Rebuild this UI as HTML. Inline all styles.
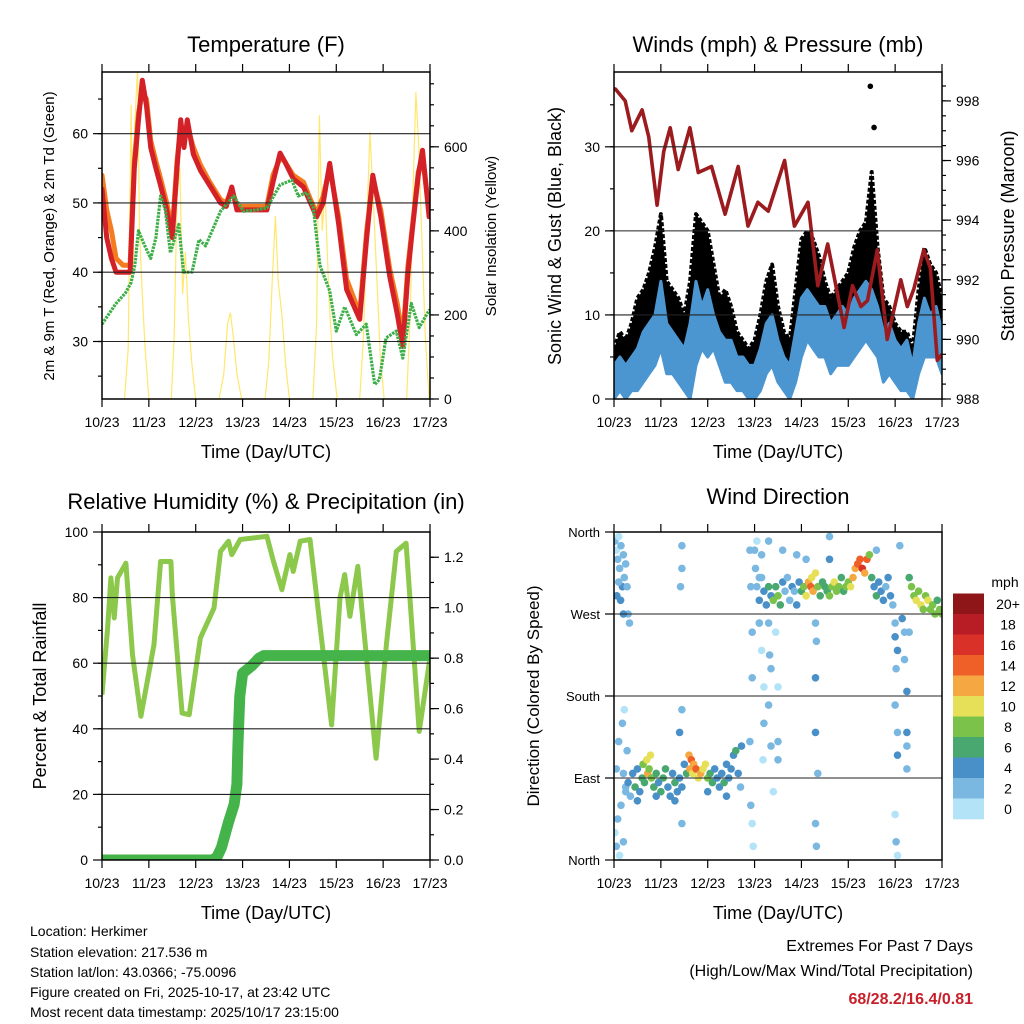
<!DOCTYPE html>
<html><head><meta charset="utf-8"><title>Station Meteogram</title>
<style>
html,body{margin:0;padding:0;background:#fff;}
svg{display:block;font-family:"Liberation Sans",Arial,sans-serif;}
</style></head>
<body>
<svg id="chart" xmlns="http://www.w3.org/2000/svg" width="1024" height="1024" viewBox="0 0 1024 1024">
<rect x="0" y="0" width="1024" height="1024" fill="#fff"/>
<defs>
<clipPath id="c1"><rect x="102" y="72" width="328" height="327"/></clipPath>
<clipPath id="c2"><rect x="614" y="72" width="328" height="327"/></clipPath>
<clipPath id="c3"><rect x="102" y="532" width="328" height="328"/></clipPath>
<clipPath id="c4"><rect x="614" y="532" width="328" height="328"/></clipPath>
</defs>
<text x="266" y="52" font-size="22" text-anchor="middle">Temperature (F)</text>
<text x="778" y="52" font-size="22" text-anchor="middle">Winds (mph) &amp; Pressure (mb)</text>
<text x="266" y="509" font-size="22" text-anchor="middle">Relative Humidity (%) &amp; Precipitation (in)</text>
<text x="778" y="504" font-size="22" text-anchor="middle">Wind Direction</text>
<text x="266" y="458" font-size="18" text-anchor="middle">Time (Day/UTC)</text>
<text x="778" y="458" font-size="18" text-anchor="middle">Time (Day/UTC)</text>
<text x="266" y="919" font-size="18" text-anchor="middle">Time (Day/UTC)</text>
<text x="778" y="919" font-size="18" text-anchor="middle">Time (Day/UTC)</text>
<text transform="translate(54,236) rotate(-90)" font-size="15" text-anchor="middle">2m &amp; 9m T (Red, Orange) &amp; 2m Td (Green)</text>
<text transform="translate(496,236) rotate(-90)" font-size="15" text-anchor="middle">Solar Insolation (Yellow)</text>
<text transform="translate(561,236) rotate(-90)" font-size="18" text-anchor="middle">Sonic Wind &amp; Gust (Blue, Black)</text>
<text transform="translate(1014,236) rotate(-90)" font-size="18" text-anchor="middle">Station Pressure (Maroon)</text>
<text transform="translate(46,696) rotate(-90)" font-size="18" text-anchor="middle">Percent &amp; Total Rainfall</text>
<text transform="translate(539,696) rotate(-90)" font-size="17" text-anchor="middle">Direction (Colored By Speed)</text>
<g font-size="14">
<text x="30" y="936">Location: Herkimer</text>
<text x="30" y="957">Station elevation: 217.536 m</text>
<text x="30" y="977">Station lat/lon: 43.0366; -75.0096</text>
<text x="30" y="997">Figure created on Fri, 2025-10-17, at 23:42 UTC</text>
<text x="30" y="1017">Most recent data timestamp: 2025/10/17 23:15:00</text>
</g>
<text x="973" y="951" font-size="16" text-anchor="end">Extremes For Past 7 Days</text>
<text x="973" y="976" font-size="16" text-anchor="end">(High/Low/Max Wind/Total Precipitation)</text>
<text x="973" y="1004" font-size="16" font-weight="bold" fill="#c8202a" text-anchor="end">68/28.2/16.4/0.81</text>
</svg>
<script>
// ---------- data ----------
const dayLabels=['10/23','11/23','12/23','13/23','14/23','15/23','16/23','17/23'];
const tRed=[0,0.1,0.2,0.3,0.45,0.6,0.69,0.78,0.86,0.95,1.04,1.15,1.25,1.38,1.5,1.6,1.68,1.75,1.82,1.95,2.1,2.3,2.53,2.65,2.77,2.88,3.2,3.52,3.65,3.8,3.9,4.08,4.3,4.45,4.58,4.72,4.86,5.05,5.22,5.5,5.65,5.78,5.95,6.14,6.3,6.42,6.53,6.63,6.75,6.84,6.98,7.0];
const tempRed=[52,45,42,40,40,40,55,62,67.7,64,58,55,52.5,49,45,55,62,58,62,57,54.7,52.5,50,49.5,52.3,49,49,49,53,57.2,56,53.5,52.3,50,48,50,55.7,47,37.5,33.2,45,54,48,39.4,34,29.3,40,46.6,54,57.6,48,48];
const tempOrange=[54,49,46,42,41,41,56,63,66,65,59,56,53.5,50,46,56,61,59,61,58,55.5,53,50.5,50,52,49.5,49.5,49.5,54,56.5,56,54,53,50.5,48.5,51,55,48,39,34,46,53.5,49,40.5,35.5,30.5,41,47,54.5,56.5,49,49];
const tDew=[0,0.15,0.3,0.5,0.62,0.7,0.78,0.9,1.04,1.15,1.25,1.35,1.46,1.64,1.74,1.92,2.07,2.21,2.39,2.53,2.81,3.02,3.3,3.52,3.8,4.05,4.19,4.37,4.51,4.65,4.86,5.0,5.18,5.43,5.64,5.82,5.92,6.06,6.28,6.42,6.6,6.77,6.98,7.0];
const dewGreen=[32.5,34,35.5,37,38.5,41,46,44,42,45,51,49,42.8,46.9,40,40,44.7,43.8,46.6,48.8,51,48.8,49,49.3,52.6,53.3,51,51.5,49.3,41,37.3,31.5,35,31,32.5,23.8,24.5,30.5,31.5,27.6,35.5,32,34.5,34.5];
const tSolar=[0.48,0.56,0.62,0.66,0.7,0.76,0.8,0.86,0.92,1.0,1.48,1.54,1.6,1.66,1.72,1.78,1.84,1.92,2.0,2.5,2.6,2.68,2.74,2.8,2.88,2.98,3.48,3.56,3.64,3.7,3.76,3.84,3.92,4.0,4.5,4.58,4.64,4.7,4.76,4.84,4.92,5.02,5.5,5.58,5.66,5.72,5.78,5.86,5.94,6.02,6.5,6.58,6.64,6.7,6.76,6.82,6.9,6.98];
const solar=[0,120,700,300,650,790,400,250,120,0,0,150,480,550,250,350,200,80,0,0,60,180,205,150,60,0,0,90,300,435,280,200,80,0,0,180,675,400,500,250,100,0,0,150,450,635,500,300,100,0,0,200,500,730,600,400,150,0];
const tWind=[0,0.125,0.25,0.375,0.5,0.625,0.75,0.875,1,1.125,1.25,1.375,1.5,1.625,1.75,1.875,2,2.125,2.25,2.375,2.5,2.625,2.75,2.875,3,3.125,3.25,3.375,3.5,3.625,3.75,3.875,4,4.125,4.25,4.375,4.5,4.625,4.75,4.875,5,5.125,5.25,5.375,5.5,5.625,5.75,5.875,6,6.125,6.25,6.375,6.5,6.625,6.75,6.875,7];
const windHigh=[4,5,4,5,6,8,9,10,14,9,8,7,6,9,14,11,13,10,8,7,7,5,5,4,4,6,9,10,7,5,4,8,12,13,12,11,11,9,10,11,10,12,13,14,13,11,8,9,7,6,7,4,9,12,10,11,8];
const windLow=[0,1,0,1,1,2,3,4,6,3,3,2,1,0,4,6,5,6,4,2,2,1,1,0,0,1,3,4,2,1,0,2,5,7,6,5,5,3,4,4,4,5,6,7,6,5,2,3,2,1,1,0,3,5,5,5,3];
const gust=[6,8,7,9,12,13,15,18,22,14,13,12,10,14,22,21,20,16,12,13,11,8,7,6,7,10,14,16,11,8,7,13,19,20,19,17,14,12,13,14,15,18,20,21,27,18,12,11,9,8,8,6,13,18,16,15,12];
const tGustOut=[5.47,5.55];
const gustOut=[37.2,32.3];
const tPres=[0,0.03,0.24,0.38,0.6,0.74,0.92,1.06,1.2,1.37,1.62,1.8,2.08,2.37,2.65,2.86,3.07,3.29,3.64,3.85,4.14,4.35,4.56,4.91,5.09,5.27,5.41,5.62,5.83,6.12,6.26,6.4,6.61,6.75,6.9,7.0];
const pressure=[998.4,998.4,998,997,997.7,996.8,994.5,996.3,997.1,995.7,997.1,995.6,995.8,994.2,995.8,993.8,994.6,994.3,996,993.8,994.6,991.8,993.2,990.4,991.8,991.1,991.3,993,990,992,991.1,991.7,993,992.4,989.3,989.5];
const tRH=[0,0.12,0.19,0.26,0.33,0.51,0.65,0.83,1.11,1.25,1.47,1.5,1.71,1.86,2.1,2.39,2.53,2.7,2.77,2.95,3.52,3.66,3.84,4.01,4.08,4.23,4.44,4.65,4.9,5.08,5.18,5.29,5.46,5.85,6.07,6.28,6.49,6.77,7.0];
const rh=[50.4,70.7,86,73.8,86,90.5,62.6,43.8,65.7,91,91,80.9,44.8,44.3,67.7,76.8,94.1,97.2,93.1,97.7,98.7,91,82.4,93.1,88,97.2,97.7,71.7,41.2,79.9,87,74.3,89.5,31,65.7,94.1,96.6,39.2,61.6];
const tPrecip=[0,2.35,2.45,2.55,2.7,2.82,2.88,2.9,2.92,2.94,3.0,3.2,3.35,3.45,7.0];
const precip=[0,0,0.01,0.05,0.15,0.22,0.3,0.45,0.55,0.65,0.74,0.77,0.8,0.81,0.81];
const wdTime=[0.02,0.05,0.08,0.1,0.12,0.15,0.18,0.2,0.22,0.06,0.14,0.25,0.28,0.1,0.3,0.02,0.05,0.08,0.12,0.15,0.2,0.25,0.05,0.1,0.18,0.22,0.28,
0.3,0.35,0.4,0.45,0.5,0.55,0.6,0.62,0.65,0.7,0.72,0.75,0.78,0.8,0.85,0.9,0.95,1.0,1.05,1.1,1.15,1.2,1.25,1.3,1.35,1.4,1.45,1.5,1.55,1.6,1.62,1.65,1.68,1.7,1.75,1.8,1.85,1.9,1.95,2.0,2.05,2.1,2.15,2.2,2.25,2.3,2.35,2.4,2.45,2.5,2.55,2.6,2.65,2.7,2.72,0.5,0.9,1.3,2.0,2.4,0.2,0.25,
1.45,1.42,1.45,1.45,1.45,1.4,0.33,0.2,
2.9,2.92,2.95,2.95,2.9,2.92,2.95,2.97,3.05,3.1,3.1,3.15,3.2,3.2,3.18,3.3,3.32,3.35,3.3,3.35,3.4,3.45,3.5,3.5,3.5,
4.3,4.32,4.3,4.3,4.35,4.3,4.32,
6.0,6.0,6.05,6.02,6.0,6.05,6.05,6.0,6.02,6.05,6.15,6.2,6.2,6.25,6.25,6.25,6.25,6.3,
3.0,3.02,3.05,3.1,3.15,3.2,3.25,3.3,3.35,3.4,3.45,3.5,3.55,3.6,3.65,3.7,3.75,3.8,3.85,3.9,3.95,4.0,4.05,4.1,4.15,4.2,4.22,4.25,4.3,4.35,4.4,4.45,4.5,4.55,4.6,4.65,4.7,4.75,4.8,4.85,4.9,4.95,5.0,5.05,5.1,5.15,5.2,5.25,5.3,5.35,5.4,5.45,5.5,5.55,5.6,5.65,5.7,5.75,5.8,5.85,5.9,5.95,6.3,6.35,6.4,6.45,6.5,6.55,6.6,6.65,6.7,6.75,6.8,6.85,6.9,6.95,7.0,3.15,3.1,3.6,3.9,4.1,4.6,5.6,6.1,3.3,4.6];
const wdDir=[350,340,330,355,320,345,300,335,310,290,285,325,300,305,270,30,15,45,5,60,20,80,100,130,150,165,120,
85,70,95,80,100,75,90,105,85,110,95,100,115,90,80,95,85,75,90,100,80,70,95,85,75,90,80,105,95,115,100,110,95,105,100,90,95,100,105,90,95,85,100,90,80,95,85,105,90,100,115,120,95,80,125,65,70,65,75,70,95,75,
165,300,320,345,40,140,260,270,
340,300,250,200,130,60,40,15,350,310,260,230,190,150,110,260,225,210,170,125,75,250,190,130,110,
260,240,200,140,95,40,15,
260,245,230,210,170,140,115,50,20,5,265,250,220,185,140,125,100,250,
340,320,300,285,310,295,280,300,290,285,300,290,280,305,295,310,285,300,295,280,305,295,300,290,305,300,310,295,315,300,290,305,300,295,290,300,305,295,300,310,295,300,305,300,310,320,325,330,320,315,330,335,310,300,290,305,295,285,300,310,290,280,310,300,290,285,295,280,275,290,285,275,280,270,285,275,270,335,260,340,335,330,330,340,345,350,355];
const wdSpeed=[2,1,2,1,3,2,4,2,3,4,4,2,3,3,2,1,2,2,1,2,2,3,2,3,2,1,3,
4,3,5,6,5,4,7,9,6,10,12,9,11,8,6,7,5,6,7,6,5,4,5,6,4,4,5,4,7,12,13,15,11,13,14,10,12,11,10,8,7,6,5,5,4,5,6,5,4,4,5,6,4,3,5,4,5,4,5,4,2,3,
3,2,2,2,2,4,3,4,
2,3,2,3,2,2,1,1,1,2,2,1,1,2,1,3,2,3,3,2,1,1,1,2,2,
3,3,4,4,2,3,3,
3,4,5,2,2,3,4,1,2,1,4,3,2,4,4,3,3,2,
2,2,3,4,3,5,4,6,5,8,7,8,6,4,2,3,2,5,3,4,5,7,9,10,13,14,11,12,10,8,6,7,6,7,8,9,10,9,8,6,7,9,8,10,12,13,14,15,16,13,14,8,6,5,6,4,5,4,3,4,5,3,7,8,9,10,9,10,9,8,10,9,8,9,7,8,9,2,2,2,2,3,4,2,2,2,2];
const speedLabels=['0','2','4','6','8','10','12','14','16','18','20+'];
const speedColors=['#b3e3f7','#7ab8e2','#4a90c8','#48a870','#7bc24a','#e6e058','#f5a742','#ef6029','#d93127','#b81c24','#8e1518'];
const tempTicks=[30,40,50,60];
const solarTicks=[0,200,400,600];
const windTicks=[0,10,20,30];
const presTicks=[988,990,992,994,996,998];
const rhTicks=[0,20,40,60,80,100];
const precipTicks=['0.0','0.2','0.4','0.6','0.8','1.0','1.2'];
const dirTicks=['North','East','South','West','North'];

// ---------- helpers ----------
const NS='http://www.w3.org/2000/svg';
const svg=document.getElementById('chart');
function mk(tag,a,parent){const e=document.createElementNS(NS,tag);for(const k in a)e.setAttribute(k,a[k]);(parent||svg).appendChild(e);return e;}
const P1={x0:102,x1:430,y0:72,y1:399,clip:'c1'};
const P2={x0:614,x1:942,y0:72,y1:399,clip:'c2'};
const P3={x0:102,x1:430,y0:532,y1:860,clip:'c3'};
const P4={x0:614,x1:942,y0:532,y1:860,clip:'c4'};
function xs(p,d){return p.x0+d/7*(p.x1-p.x0);}
function ys(p,v,lo,hi){return p.y1-(v-lo)/(hi-lo)*(p.y1-p.y0);}
const TEMP=[21.7,68.9],SOL=[0,778],WIND=[0,38.9],PRES=[988,998.97],RH=[0,100],PREC=[0,1.3],DIR=[0,360];
function pts(p,t,v,r){return t.map((d,i)=>xs(p,d).toFixed(1)+','+ys(p,v[i],r[0],r[1]).toFixed(1)).join(' ');}
function group(p){return mk('g',{'clip-path':'url(#'+p.clip+')'});}

// ---------- panel 1 : temperature ----------
const g1=group(P1);


const solarLine=mk('polyline',{points:pts(P1,tSolar,solar,SOL),fill:'none',stroke:'#ffe14a','stroke-width':1.2,'stroke-opacity':0.8},g1);


const orangeLine=mk('polyline',{points:pts(P1,tRed,tempOrange,TEMP),fill:'none',stroke:'#f47b20','stroke-width':5,'stroke-linejoin':'round','stroke-linecap':'round'},g1);


const redLine=mk('polyline',{points:pts(P1,tRed,tempRed,TEMP),fill:'none',stroke:'#d42027','stroke-width':5,'stroke-linejoin':'round','stroke-linecap':'round'},g1);


const greenLine=mk('polyline',{points:pts(P1,tDew,dewGreen,TEMP),fill:'none',stroke:'#3daf48','stroke-width':3.2,'stroke-dasharray':'2.5 1','stroke-linejoin':'round'},g1);



// ---------- panel 2 : wind ----------
const g2=group(P2);


function revPts(p,t,v,r){return t.slice().reverse().map((d,j)=>{const i=t.length-1-j;return xs(p,d).toFixed(1)+','+ys(p,v[i],r[0],r[1]).toFixed(1);}).join(' ');}
const gustArea=mk('polygon',{points:pts(P2,tWind,gust,WIND)+' '+revPts(P2,tWind,windHigh,WIND),fill:'#000',stroke:'#000','stroke-width':4,'stroke-linejoin':'round','stroke-dasharray':'4 2'},g2);


const windBand=mk('polygon',{points:pts(P2,tWind,windHigh,WIND)+' '+revPts(P2,tWind,windLow,WIND),fill:'#4b96d1',stroke:'#4b96d1','stroke-width':3,'stroke-linejoin':'round'},g2);


for(let i=0;i<tGustOut.length;i++){
  const c=mk('circle',{cx:xs(P2,tGustOut[i]),cy:ys(P2,gustOut[i],WIND[0],WIND[1]),r:2.8,fill:'#000'},g2);
  
  
}
const presLine=mk('polyline',{points:pts(P2,tPres,pressure,PRES),fill:'none',stroke:'#9b1b1e','stroke-width':3.6,'stroke-linejoin':'round'},g2);



// ---------- panel 3 : RH & precip ----------
const g3=group(P3);


const rhLine=mk('polyline',{points:pts(P3,tRH,rh,RH),fill:'none',stroke:'#8cc84b','stroke-width':5,'stroke-linejoin':'round'},g3);


const prLine=mk('polyline',{points:pts(P3,tPrecip,precip,PREC),fill:'none',stroke:'#44b349','stroke-width':11,'stroke-linejoin':'round','stroke-linecap':'round'},g3);



// ---------- panel 4 : direction ----------
const g4=group(P4);


for(let i=0;i<wdTime.length;i++){
  const bin=Math.min(10,Math.max(0,Math.floor(wdSpeed[i]/2)));
  const c=mk('circle',{cx:xs(P4,wdTime[i]).toFixed(1),cy:ys(P4,wdDir[i],DIR[0],DIR[1]).toFixed(1),r:3.8,fill:speedColors[bin]},g4);
  
  
}

// ---------- axes ----------
function hgrid(p,yv){const l=mk('line',{x1:p.x0,x2:p.x1,y1:yv,y2:yv,stroke:'#222','stroke-width':1.1});}
function tick(x1,y1,x2,y2){const l=mk('line',{x1:x1,y1:y1,x2:x2,y2:y2,stroke:'#000','stroke-width':1.2});}
function label(x,y,txt,anchor,fs){const t=mk('text',{x:x,y:y,'font-size':fs||14,'text-anchor':anchor});t.textContent=txt;}
function box(p){const r=mk('rect',{x:p.x0,y:p.y0,width:p.x1-p.x0,height:p.y1-p.y0,fill:'none',stroke:'#000','stroke-width':1.5});}
function xaxis(p){
  for(let i=0;i<dayLabels.length;i++){const x=xs(p,i);tick(x,p.y1,x,p.y1+8);tick(x,p.y0,x,p.y0-8);label(x,p.y1+28,dayLabels[i],'middle',14);}
}
function leftAxis(p,ticks,r,minor,grid){
  for(let v=r[0]-(r[0]%minor)+minor;v<r[1];v+=minor){const y=ys(p,v,r[0],r[1]);tick(p.x0-4,y,p.x0,y);}
  for(const v of ticks){const y=ys(p,v,r[0],r[1]);tick(p.x0-9,y,p.x0,y);if(grid&&y>p.y0+2&&y<p.y1-2)hgrid(p,y);label(p.x0-14,y+5,String(v),'end',14);}
}
function rightAxis(p,ticks,vals,r,minor){
  for(let v=r[0];v<r[1];v+=minor){const y=ys(p,v,r[0],r[1]);tick(p.x1,y,p.x1+4,y);}
  for(let i=0;i<ticks.length;i++){const y=ys(p,vals[i],r[0],r[1]);tick(p.x1,y,p.x1+9,y);label(p.x1+14,y+5,ticks[i],'start',14);}
}
leftAxis(P1,tempTicks,TEMP,5,true);
rightAxis(P1,solarTicks.map(String),solarTicks,SOL,50);
xaxis(P1);box(P1);
leftAxis(P2,windTicks,WIND,5,true);
rightAxis(P2,presTicks.map(String),presTicks,PRES,0.5);
xaxis(P2);box(P2);
leftAxis(P3,rhTicks,RH,10,true);
rightAxis(P3,precipTicks,precipTicks.map(Number),PREC,0.1);
xaxis(P3);box(P3);
for(let i=0;i<dirTicks.length;i++){const v=i*90;const y=ys(P4,v,DIR[0],DIR[1]);tick(P4.x0-9,y,P4.x0,y);if(i>0&&i<4)hgrid(P4,y);label(P4.x0-14,y+5,dirTicks[i],'end',13);}
xaxis(P4);box(P4);

// ---------- colorbar ----------
const cbTop=593.5,cbH=20.5;
const cbTitle=mk('text',{x:1005,y:587,'font-size':14,'text-anchor':'middle'});
cbTitle.textContent='mph';


for(let i=0;i<speedColors.length;i++){
  const k=speedColors.length-1-i;
  const r=mk('rect',{x:953,y:cbTop+i*cbH,width:31,height:cbH+0.3,fill:speedColors[k]});
  
  
  const t=mk('text',{x:1008,y:cbTop+i*cbH+cbH/2+5,'font-size':14,'text-anchor':'middle'});
  t.textContent=speedLabels[k];
  
  
}
</script>
</body></html>
